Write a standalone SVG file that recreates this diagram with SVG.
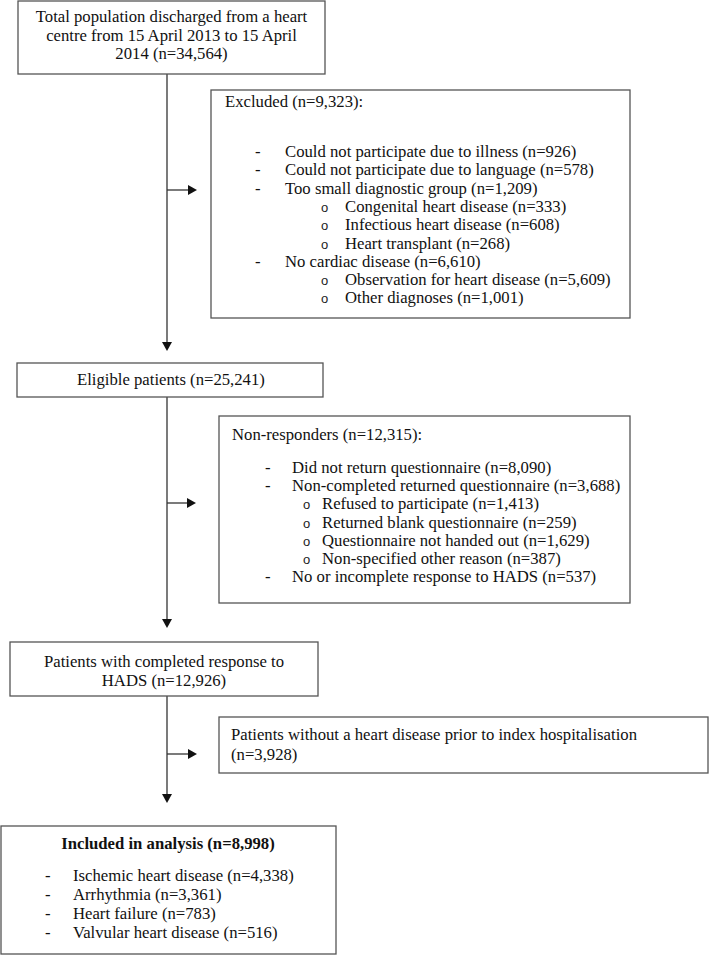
<svg xmlns="http://www.w3.org/2000/svg" width="710" height="955" viewBox="0 0 710 955">
<style>
.box{fill:#fff;stroke:#555;stroke-width:1.3}
.t{font-family:"Liberation Serif","Times New Roman",serif;font-size:16.7px;fill:#111}
.o{font-family:"Liberation Sans",Arial,sans-serif;font-size:13px;fill:#222}
.c{text-anchor:middle}
.b{font-weight:bold}
.ln{stroke:#333;stroke-width:1.3;fill:none}
.ah{fill:#111}
</style>
<rect width="710" height="955" fill="#fff"/>
<g id="connectors">
<line class="ln" x1="167" y1="74" x2="167" y2="343"/>
<polygon class="ah" points="162,342 172,342 167,351"/>
<line class="ln" x1="167" y1="190" x2="189" y2="190"/>
<polygon class="ah" points="188,185 188,195 197,190"/>
<line class="ln" x1="167" y1="397" x2="167" y2="620"/>
<polygon class="ah" points="162,619 172,619 167,628"/>
<line class="ln" x1="167" y1="503" x2="188" y2="503"/>
<polygon class="ah" points="187,498 187,508 196,503"/>
<line class="ln" x1="167" y1="696" x2="167" y2="795"/>
<polygon class="ah" points="162,794 172,794 167,803"/>
<line class="ln" x1="167" y1="754" x2="189" y2="754"/>
<polygon class="ah" points="188,749 188,759 197,754"/>
</g>
<g id="total">
<rect class="box" x="18" y="1" width="307" height="73"/>
<text class="t c" x="171.5" y="22">Total population discharged from a heart</text>
<text class="t c" x="171.5" y="40.5">centre from 15 April 2013 to 15 April</text>
<text class="t c" x="171.5" y="59">2014 (n=34,564)</text>
</g>
<g id="excluded">
<rect class="box" x="211" y="90" width="419" height="228"/>
<text class="t" x="225" y="107">Excluded (n=9,323):</text>
<text class="t" x="255" y="157">-</text><text class="t" x="285" y="157">Could not participate due to illness (n=926)</text>
<text class="t" x="255" y="175.3">-</text><text class="t" x="285" y="175.3">Could not participate due to language (n=578)</text>
<text class="t" x="255" y="193.6">-</text><text class="t" x="285" y="193.6">Too small diagnostic group (n=1,209)</text>
<text class="o" x="321" y="211.9">o</text><text class="t" x="345" y="211.9">Congenital heart disease (n=333)</text>
<text class="o" x="321" y="230.2">o</text><text class="t" x="345" y="230.2">Infectious heart disease (n=608)</text>
<text class="o" x="321" y="248.5">o</text><text class="t" x="345" y="248.5">Heart transplant (n=268)</text>
<text class="t" x="255" y="266.8">-</text><text class="t" x="285" y="266.8">No cardiac disease (n=6,610)</text>
<text class="o" x="321" y="285.1">o</text><text class="t" x="345" y="285.1">Observation for heart disease (n=5,609)</text>
<text class="o" x="321" y="303.4">o</text><text class="t" x="345" y="303.4">Other diagnoses (n=1,001)</text>
</g>
<g id="eligible">
<rect class="box" x="17" y="363" width="306" height="34"/>
<text class="t" x="77" y="385">Eligible patients (n=25,241)</text>
</g>
<g id="nonresponders">
<rect class="box" x="219" y="416" width="411" height="187"/>
<text class="t" x="232" y="440">Non-responders (n=12,315):</text>
<text class="t" x="265" y="473">-</text><text class="t" x="292" y="473">Did not return questionnaire (n=8,090)</text>
<text class="t" x="265" y="491.2">-</text><text class="t" x="292" y="491.2">Non-completed returned questionnaire (n=3,688)</text>
<text class="o" x="303" y="509.4">o</text><text class="t" x="322" y="509.4">Refused to participate (n=1,413)</text>
<text class="o" x="303" y="527.6">o</text><text class="t" x="322" y="527.6">Returned blank questionnaire (n=259)</text>
<text class="o" x="303" y="545.8">o</text><text class="t" x="322" y="545.8">Questionnaire not handed out (n=1,629)</text>
<text class="o" x="303" y="564">o</text><text class="t" x="322" y="564">Non-specified other reason (n=387)</text>
<text class="t" x="265" y="582.2">-</text><text class="t" x="292" y="582.2">No or incomplete response to HADS (n=537)</text>
</g>
<g id="hads">
<rect class="box" x="10" y="642" width="308" height="54"/>
<text class="t c" x="164" y="667">Patients with completed response to</text>
<text class="t c" x="164" y="686">HADS (n=12,926)</text>
</g>
<g id="noprior">
<rect class="box" x="219" y="717" width="489" height="56"/>
<text class="t" x="231" y="740">Patients without a heart disease prior to index hospitalisation</text>
<text class="t" x="231" y="760">(n=3,928)</text>
</g>
<g id="included">
<rect class="box" x="1" y="826" width="335" height="128"/>
<text class="t c b" x="168" y="849">Included in analysis (n=8,998)</text>
<text class="t" x="45" y="881">-</text><text class="t" x="73" y="881">Ischemic heart disease (n=4,338)</text>
<text class="t" x="45" y="900">-</text><text class="t" x="73" y="900">Arrhythmia (n=3,361)</text>
<text class="t" x="45" y="919">-</text><text class="t" x="73" y="919">Heart failure (n=783)</text>
<text class="t" x="45" y="938">-</text><text class="t" x="73" y="938">Valvular heart disease (n=516)</text>
</g>
</svg>
